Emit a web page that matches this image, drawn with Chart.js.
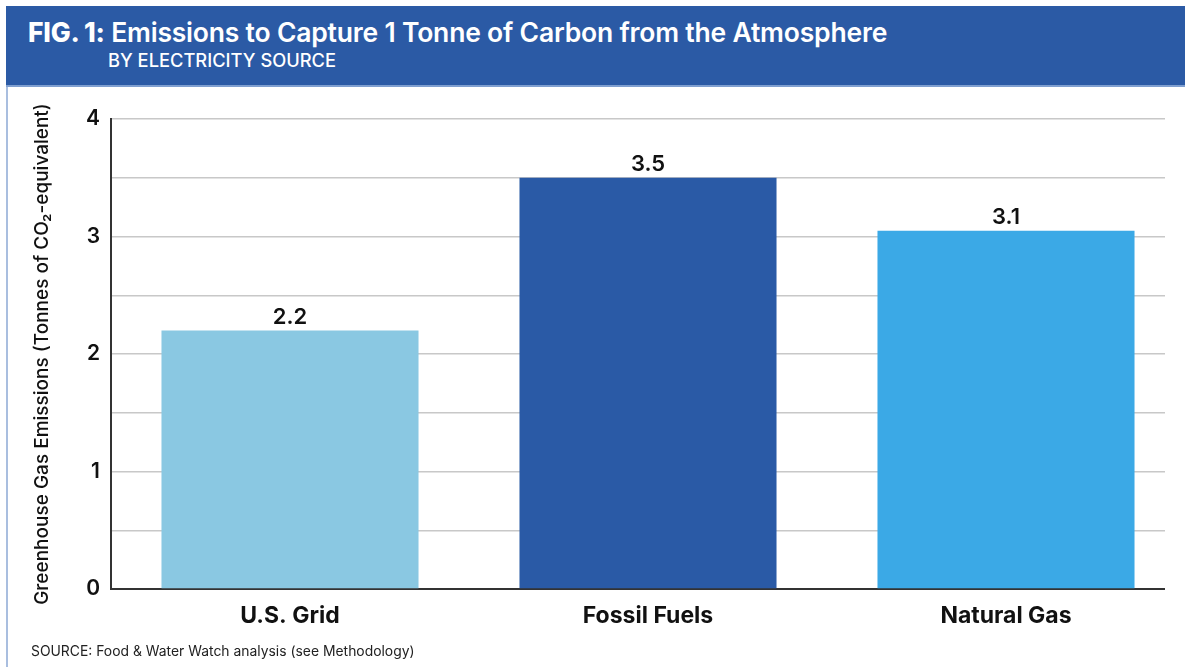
<!DOCTYPE html>
<html>
<head>
<meta charset="utf-8">
<script src="https://cdn.jsdelivr.net/npm/chart.js@4.4.1/dist/chart.umd.min.js"></script>
<style>
  html, body { margin: 0; padding: 0; background: #ffffff; }
  body { width: 1185px; height: 667px; position: relative; overflow: hidden; font-family: Inter, "Noto Sans", sans-serif; }
  #header { position: absolute; left: 6px; top: 6px; width: 1179px; height: 79px; background: #2b5aa5; border-bottom: 2px solid #7f9fd0; }
  #title { position: absolute; left: 22px; top: 10px; color: #fff; font-size: 26.5px; font-weight: 600; white-space: nowrap; letter-spacing: -0.2px; }
  #title b { font-weight: 800; }
  #subtitle { position: absolute; left: 102px; top: 43px; color: #fff; font-size: 18.3px; font-weight: 500; white-space: nowrap; }
  #leftline { position: absolute; left: 6px; top: 87px; width: 2px; height: 580px; background: #a9bedf; }
  #chartbox { position: absolute; left: 0; top: 86px; width: 1185px; height: 581px; }
  #source { position: absolute; left: 31px; top: 643px; font-size: 13.9px; color: #222; white-space: nowrap; }
</style>
</head>
<body>
<div id="header">
  <div id="title"><b>FIG. 1:</b> Emissions to Capture 1 Tonne of Carbon from the Atmosphere</div>
  <div id="subtitle">BY ELECTRICITY SOURCE</div>
</div>
<div id="leftline"></div>
<div id="chartbox"><canvas id="c" width="1185" height="581"></canvas></div>
<div id="source">SOURCE: Food &amp; Water Watch analysis (see Methodology)</div>
<script>
const categories = ["U.S. Grid", "Fossil Fuels", "Natural Gas"];
const emissions = [2.2, 3.5, 3.05];
const valueLabels = ["2.2", "3.5", "3.1"];
const barColors = ["#8ac8e2", "#2a5aa6", "#3ba9e6"];
const yTickLabels = { 0: "0", 1: "1", 2: "2", 3: "3", 4: "4" };
const yAxisTitle = "Greenhouse Gas Emissions (Tonnes of CO\u2082-equivalent)";

const valueLabelPlugin = {
  id: "valueLabels",
  afterDatasetsDraw(chart) {
    const ctx = chart.ctx;
    const meta = chart.getDatasetMeta(0);
    ctx.save();
    ctx.font = "600 22px Inter, 'Noto Sans', sans-serif";
    ctx.fillStyle = "#111";
    ctx.textAlign = "center";
    ctx.textBaseline = "alphabetic";
    meta.data.forEach((bar, i) => {
      ctx.fillText(valueLabels[i], bar.x, bar.y - 7);
    });
    ctx.restore();
  }
};

const trimPlugin = {
  id: "trimRight",
  afterDraw(chart) {
    const a = chart.chartArea;
    const ctx = chart.ctx;
    ctx.save();
    ctx.fillStyle = "#ffffff";
    ctx.fillRect(1165, a.top - 3, chart.width - 1165, a.bottom - a.top + 6);
    ctx.restore();
  }
};

new Chart(document.getElementById("c"), {
  type: "bar",
  data: {
    labels: categories,
    datasets: [{
      data: emissions,
      backgroundColor: barColors,
      borderWidth: 0,
      barPercentage: 0.718,
      categoryPercentage: 1.0
    }]
  },
  options: {
    responsive: false,
    animation: false,
    layout: { padding: { left: 0, right: 0, top: 33, bottom: 0 } },
    plugins: { legend: { display: false }, tooltip: { enabled: false } },
    scales: {
      x: {
        grid: { display: false, drawTicks: false },
        border: { display: true, color: "#333", width: 2 },
        ticks: {
          padding: 13,
          color: "#111",
          font: { family: "Inter, 'Noto Sans', sans-serif", size: 23, weight: "bold" }
        },
        afterFit(scale) { scale.height = 78; }
      },
      y: {
        min: 0,
        max: 4,
        grid: { color: "#c8c8c8", lineWidth: 1.5, drawTicks: false },
        border: { display: true, color: "#333", width: 2 },
        ticks: {
          stepSize: 0.5,
          padding: 11,
          color: "#111",
          font: { family: "Inter, 'Noto Sans', sans-serif", size: 21, weight: "600" },
          callback: (v) => (yTickLabels[v] !== undefined ? yTickLabels[v] : "")
        },
        title: {
          display: true,
          text: yAxisTitle,
          color: "#111",
          padding: { top: 31, bottom: 0 },
          font: { family: "Inter, 'Noto Sans', sans-serif", size: 19, weight: "500" }
        },
        afterFit(scale) { scale.width = 111; }
      }
    }
  },
  plugins: [valueLabelPlugin, trimPlugin]
});
</script>
</body>
</html>
